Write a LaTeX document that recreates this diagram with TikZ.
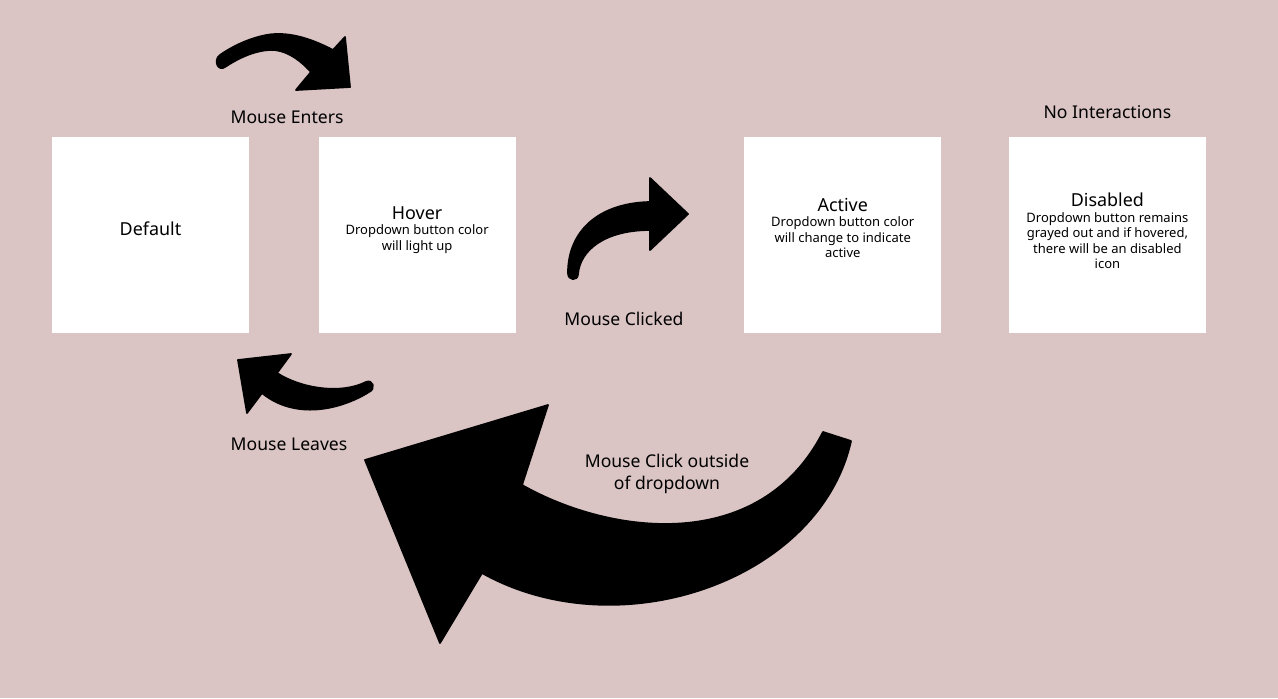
\documentclass[tikz,border=0pt]{standalone}
\usepackage{fontspec}
\setmainfont{Noto Sans}
\usepackage{xcolor}
\usetikzlibrary{positioning}
\definecolor{bgpink}{RGB}{218,196,196}
\newcommand{\titlesz}{\fontsize{10.2pt}{12pt}\selectfont}
\newcommand{\descsz}{\fontsize{7.4pt}{8.8pt}\selectfont}
\newcommand{\eventsz}{\fontsize{10pt}{12.8pt}\selectfont}

\begin{document}
\begin{tikzpicture}[
    x=0.02cm, y=-0.02cm,
    node distance=1.38cm,
    statebox/.style={rectangle, fill=white, minimum width=3.94cm, minimum height=3.92cm, inner sep=0pt},
    statetext/.style={align=center, font=\descsz, inner sep=0pt},
    event/.style={align=center, font=\eventsz, inner sep=0pt},
    curvearrow/.style={fill=black, draw=black, line width=1pt, line join=round}
]
    % Background
    \fill[bgpink] (0,0) rectangle (1278,698);

    % States
    \node[statebox] (default) at (150.5,235) {};
    \node[statebox, right=of default] (hover) {};
    \node[statebox, right=4.56cm of hover] (active) {};
    \node[statebox, right=1.34cm of active] (disabled) {};

    \node[statetext] (defaulttxt) at ([yshift=0.12cm]default.center) {{\titlesz Default}};
    \node[statetext] (hovertxt) at ([yshift=0.1cm]hover.center) {{\titlesz Hover}\\Dropdown button color\\will light up};
    \node[statetext] (activetxt) at ([yshift=0.14cm]active.center) {{\titlesz Active}\\Dropdown button color\\will change to indicate\\active};
    \node[statetext] (disabledtxt) at ([yshift=0.08cm]disabled.center) {{\titlesz Disabled}\\Dropdown button remains\\grayed out and if hovered,\\there will be an disabled\\icon};

    % Event labels
    \node[event] (enterlbl) at (287,117) {Mouse Enters};
    \node[event] (clicklbl) at (624,319) {Mouse Clicked};
    \node[event] (leavelbl) at (289,444) {Mouse Leaves};
    \node[event] (outsidelbl) at (667,474) {Mouse Click outside\\of dropdown};
    \node[event, above=0.36cm of disabled] (nointer) {No Interactions};

    % Mouse Enters arrow
    \filldraw[curvearrow] (333,50) .. controls (310,38) and (285,30) .. (262,36)
        .. controls (245,40) and (230,48) .. (220,55)
        .. controls (213,60) and (218,72) .. (225,67)
        .. controls (240,57) and (258,49) .. (275,50)
        .. controls (290,52) and (302,62) .. (311,72)
        -- (296,90) -- (350,87) -- (345,37) -- cycle;

    % Mouse Clicked arrow
    \filldraw[curvearrow] (650,202) -- (650,178) -- (688,214) -- (650,250) -- (650,230)
        .. controls (605,230) and (580,250) .. (578,274)
        .. controls (578,281) and (568,281) .. (568,273)
        .. controls (568,230) and (600,203) .. (650,202) -- cycle;

    % Mouse Leaves arrow
    \filldraw[curvearrow] (277,373) .. controls (300,388) and (340,395) .. (366,382)
        .. controls (373,379) and (376,389) .. (369,392)
        .. controls (340,410) and (295,420) .. (262,393)
        -- (247,413) -- (238,360) -- (291,354) -- cycle;

    % Mouse Click outside arrow
    \filldraw[curvearrow] (522,485) .. controls (610,535) and (760,555) .. (823,432)
        -- (851,441)
        .. controls (820,580) and (620,650) .. (482,573)
        -- (440,643) -- (365,460) -- (548,405) -- cycle;
\end{tikzpicture}
\end{document}
